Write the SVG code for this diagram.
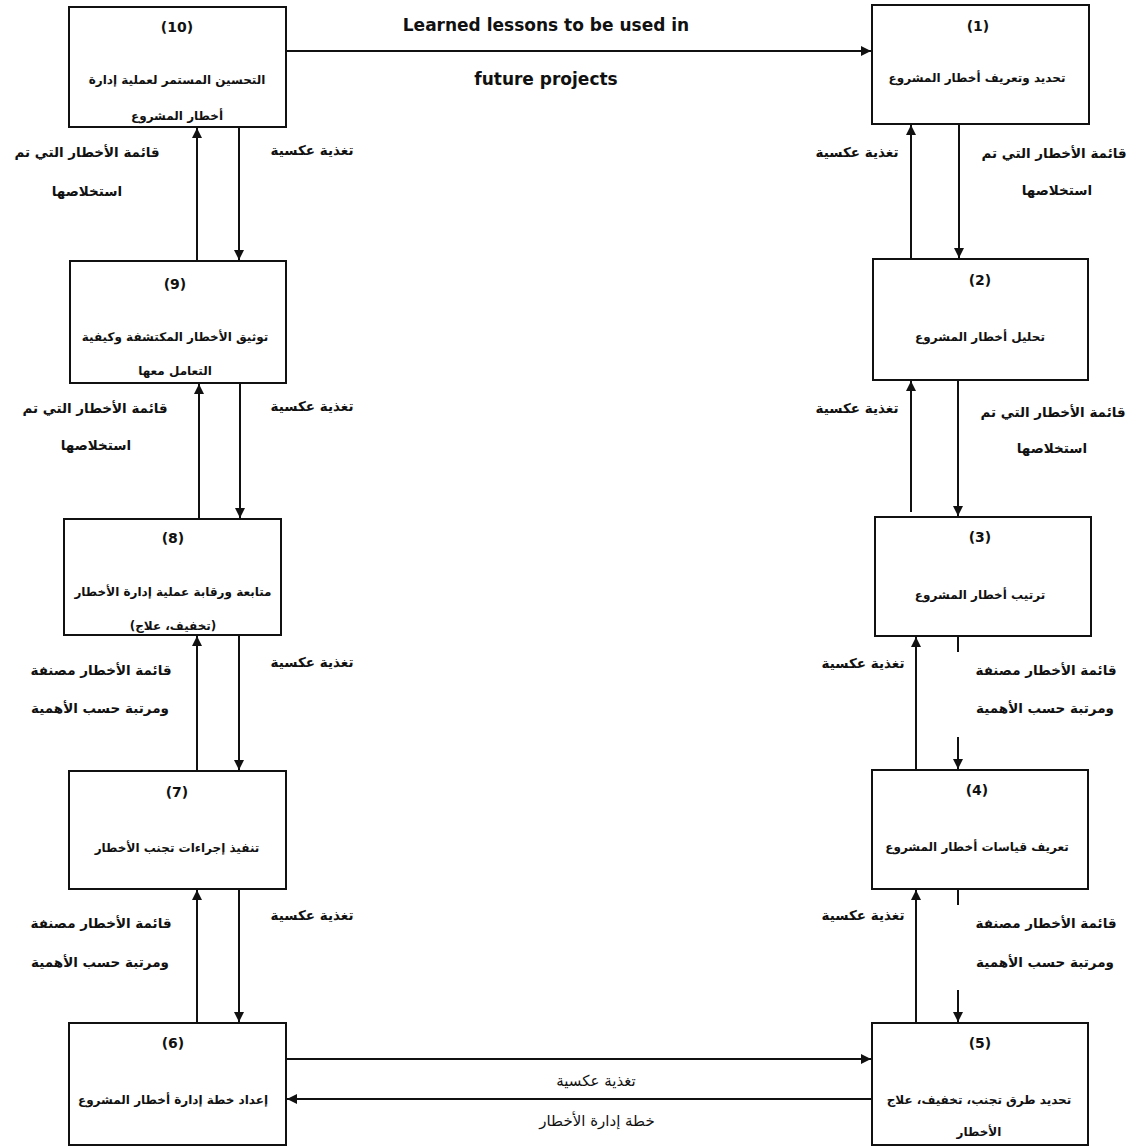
<svg xmlns="http://www.w3.org/2000/svg" width="1132" height="1146" viewBox="0 0 1132 1146">
<style>
.box{fill:#fff;stroke:#111;stroke-width:2}
.ln{fill:none;stroke:#111;stroke-width:2}
.t{font-family:"DejaVu Sans",sans-serif;font-weight:bold;font-size:12px;fill:#111;text-anchor:middle;dominant-baseline:central}
.num{font-size:14px}
.lb{font-size:13.5px}
.bt{font-size:15px;font-weight:normal}
.ar{direction:rtl;unicode-bidi:embed}
.en{font-family:"DejaVu Sans",sans-serif;font-weight:bold;font-size:17px;fill:#111;text-anchor:middle;dominant-baseline:central}
</style>
<defs>
<marker id="ah" markerUnits="userSpaceOnUse" markerWidth="12" markerHeight="12" refX="10" refY="5" orient="auto">
<path d="M0,0 L10,5 L0,10 Z" fill="#111"/>
</marker>
</defs>
<rect width="1132" height="1146" fill="#fff"/>

<g id="connectors">
<path class="ln" d="M286,51 H871" marker-end="url(#ah)"/>
<path class="ln" d="M197,261 V128" marker-end="url(#ah)"/>
<path class="ln" d="M239,127 V260" marker-end="url(#ah)"/>
<path class="ln" d="M199,519 V384" marker-end="url(#ah)"/>
<path class="ln" d="M240,383 V518" marker-end="url(#ah)"/>
<path class="ln" d="M197,773 V636" marker-end="url(#ah)"/>
<path class="ln" d="M239,635 V770" marker-end="url(#ah)"/>
<path class="ln" d="M197,1023 V890" marker-end="url(#ah)"/>
<path class="ln" d="M239,889 V1022" marker-end="url(#ah)"/>
<path class="ln" d="M911,259 V125" marker-end="url(#ah)"/>
<path class="ln" d="M959,124 V258" marker-end="url(#ah)"/>
<path class="ln" d="M911,512 V381" marker-end="url(#ah)"/>
<path class="ln" d="M958,380 V516" marker-end="url(#ah)"/>
<path class="ln" d="M916,770 V637" marker-end="url(#ah)"/>
<path class="ln" d="M958,636 V652"/>
<path class="ln" d="M958,737 V769" marker-end="url(#ah)"/>
<path class="ln" d="M916,1023 V890" marker-end="url(#ah)"/>
<path class="ln" d="M958,889 V905"/>
<path class="ln" d="M958,990 V1022" marker-end="url(#ah)"/>
<path class="ln" d="M286,1059 H871" marker-end="url(#ah)"/>
<path class="ln" d="M872,1099 H287" marker-end="url(#ah)"/>
</g>

<g id="labels">
<text class="en" x="546" y="25">Learned lessons to be used in</text>
<text class="en" x="546" y="79">future projects</text>

<text class="t lb ar" x="87" y="152">قائمة الأخطار التي تم</text>
<text class="t lb ar" x="87" y="191">استخلاصها</text>
<text class="t lb ar" x="312" y="150">تغذية عكسية</text>

<text class="t lb ar" x="95" y="408">قائمة الأخطار التي تم</text>
<text class="t lb ar" x="96" y="445">استخلاصها</text>
<text class="t lb ar" x="312" y="406">تغذية عكسية</text>

<text class="t lb ar" x="101" y="670">قائمة الأخطار مصنفة</text>
<text class="t lb ar" x="100" y="708">ومرتبة حسب الأهمية</text>
<text class="t lb ar" x="312" y="662">تغذية عكسية</text>

<text class="t lb ar" x="101" y="923">قائمة الأخطار مصنفة</text>
<text class="t lb ar" x="100" y="962">ومرتبة حسب الأهمية</text>
<text class="t lb ar" x="312" y="915">تغذية عكسية</text>

<text class="t lb ar" x="857" y="152">تغذية عكسية</text>
<text class="t lb ar" x="1054" y="153">قائمة الأخطار التي تم</text>
<text class="t lb ar" x="1057" y="190">استخلاصها</text>

<text class="t lb ar" x="857" y="408">تغذية عكسية</text>
<text class="t lb ar" x="1053" y="412">قائمة الأخطار التي تم</text>
<text class="t lb ar" x="1052" y="448">استخلاصها</text>

<text class="t lb ar" x="863" y="663">تغذية عكسية</text>
<text class="t lb ar" x="1046" y="670">قائمة الأخطار مصنفة</text>
<text class="t lb ar" x="1045" y="708">ومرتبة حسب الأهمية</text>

<text class="t lb ar" x="863" y="915">تغذية عكسية</text>
<text class="t lb ar" x="1046" y="923">قائمة الأخطار مصنفة</text>
<text class="t lb ar" x="1045" y="962">ومرتبة حسب الأهمية</text>

<text class="t bt ar" x="596" y="1081">تغذية عكسية</text>
<text class="t bt ar" x="597" y="1121">خطة إدارة الأخطار</text>
</g>

<g id="node10">
<rect class="box" x="69" y="7" width="217" height="120"/>
<text class="t num" x="177" y="27">(10)</text>
<text class="t ar" x="177" y="80">التحسين المستمر لعملية إدارة</text>
<text class="t ar" x="177" y="116">أخطار المشروع</text>
</g>
<g id="node1">
<rect class="box" x="872" y="5" width="217" height="119"/>
<text class="t num" x="978" y="26">(1)</text>
<text class="t ar" x="977" y="78">تحديد وتعريف أخطار المشروع</text>
</g>
<g id="node9">
<rect class="box" x="70" y="261" width="216" height="122"/>
<text class="t num" x="175" y="284">(9)</text>
<text class="t ar" x="175" y="337">توثيق الأخطار المكتشفة وكيفية</text>
<text class="t ar" x="175" y="371">التعامل معها</text>
</g>
<g id="node2">
<rect class="box" x="873" y="259" width="215" height="121"/>
<text class="t num" x="980" y="280">(2)</text>
<text class="t ar" x="980" y="337">تحليل أخطار المشروع</text>
</g>
<g id="node8">
<rect class="box" x="64" y="519" width="217" height="116"/>
<text class="t num" x="173" y="538">(8)</text>
<text class="t ar" x="173" y="592">متابعة ورقابة عملية إدارة الأخطار</text>
<text class="t ar" x="173" y="626">(تخفيف، علاج)</text>
</g>
<g id="node3">
<rect class="box" x="875" y="517" width="216" height="119"/>
<text class="t num" x="980" y="537">(3)</text>
<text class="t ar" x="980" y="595">ترتيب أخطار المشروع</text>
</g>
<g id="node7">
<rect class="box" x="69" y="771" width="217" height="118"/>
<text class="t num" x="177" y="792">(7)</text>
<text class="t ar" x="177" y="848">تنفيذ إجراءات تجنب الأخطار</text>
</g>
<g id="node4">
<rect class="box" x="872" y="770" width="216" height="119"/>
<text class="t num" x="977" y="790">(4)</text>
<text class="t ar" x="977" y="847">تعريف قياسات أخطار المشروع</text>
</g>
<g id="node6">
<rect class="box" x="69" y="1023" width="217" height="122"/>
<text class="t num" x="173" y="1043">(6)</text>
<text class="t ar" x="173" y="1100">إعداد خطة إدارة أخطار المشروع</text>
</g>
<g id="node5">
<rect class="box" x="872" y="1023" width="216" height="122"/>
<text class="t num" x="980" y="1043">(5)</text>
<text class="t ar" x="979" y="1100">تحديد طرق تجنب، تخفيف، علاج</text>
<text class="t ar" x="979" y="1132">الأخطار</text>
</g>
</svg>
